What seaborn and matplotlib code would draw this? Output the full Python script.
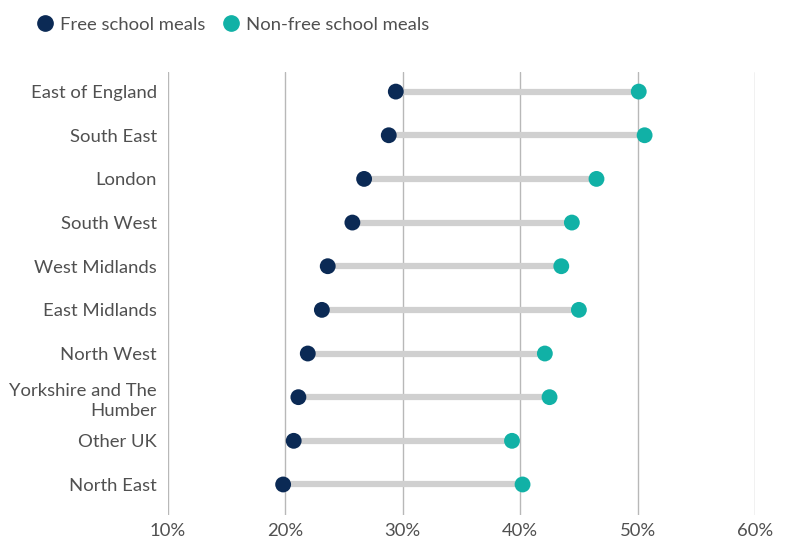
import numpy as np
import pandas as pd
import matplotlib
matplotlib.use("Agg")
import matplotlib.pyplot as plt
import seaborn as sns

regions = ["East of England", "South East", "London", "South West", "West Midlands",
           "East Midlands", "North West", "Yorkshire and The\nHumber", "Other UK", "North East"]
fsm = [29.4, 28.8, 26.7, 25.7, 23.6, 23.1, 21.9, 21.1, 20.7, 19.8]
non_fsm = [50.1, 50.6, 46.5, 44.4, 43.5, 45.0, 42.1, 42.5, 39.3, 40.2]
series = ["Free school meals", "Non-free school meals"]
colors = ["#0b2a55", "#11b1a6"]

df = pd.DataFrame({"region": regions * 2,
                   "value": fsm + non_fsm,
                   "group": [series[0]] * len(regions) + [series[1]] * len(regions)})

sns.set_style("white")
plt.rcParams['font.family'] = ['Lato', 'DejaVu Sans']
text_col = "#505050"
fs = 13.3

fig = plt.figure(figsize=(7.93, 5.41), dpi=100)
ax = fig.add_axes([0.212, 0.048, 0.74, 0.819])

ypos = np.arange(len(regions))
ax.hlines(ypos, fsm, non_fsm, color="#d0d0d0", lw=4.5, zorder=1)
sns.scatterplot(data=df, x="value", y="region", hue="group", palette=colors,
                s=130, edgecolor="none", ax=ax, zorder=3, legend=False)

ax.set_xlim(10, 60)
ax.set_ylim(len(regions) - 0.3, -0.45)
ax.set_xticks(range(10, 61, 10))
ax.set_xticklabels([f"{v}%" for v in range(10, 61, 10)], fontsize=fs, color=text_col)
ax.set_yticks(ypos)
ax.set_yticklabels(regions, fontsize=fs, color=text_col, linespacing=1.35)
ax.grid(axis="x", color="#b8b8b8", lw=1)
ax.set_axisbelow(True)
ax.tick_params(axis="y", length=0, pad=8)
ax.tick_params(axis="x", length=0, pad=6)
for s in ax.spines.values():
    s.set_visible(False)
ax.set_xlabel("")
ax.set_ylabel("")

handles = [plt.Line2D([], [], marker="o", ls="", color=c, markersize=11) for c in colors]
fig.legend(handles, series, loc="upper left", bbox_to_anchor=(0.022, 1.0), ncol=2,
           frameon=False, fontsize=fs, labelcolor=text_col, handletextpad=0.2,
           columnspacing=0.8, handlelength=1.2)

fig.savefig("out.png", dpi=100)
